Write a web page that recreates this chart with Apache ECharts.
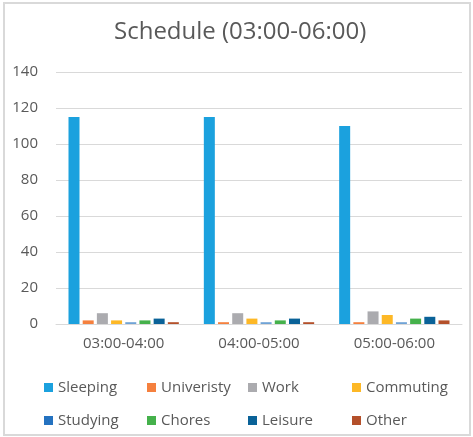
<!DOCTYPE html>
<html>
<head>
<meta charset="utf-8">
<script src="https://cdn.jsdelivr.net/npm/echarts@6/dist/echarts.min.js"></script>
<style>
  html, body { margin: 0; padding: 0; background: #fff; }
  #chart { width: 473px; height: 437px; }
</style>
</head>
<body>
<div id="chart"></div>
<script>
// Time slots on the category axis
const slots = ['03:00-04:00', '04:00-05:00', '05:00-06:00'];

// Activity names (as labelled in the legend)
const activities = ['Sleeping', 'Univeristy', 'Work', 'Commuting', 'Studying', 'Chores', 'Leisure', 'Other'];

// Values per activity, one per time slot
const sleeping   = [115, 115, 110];
const univeristy = [2, 1, 1];
const work       = [6, 6, 7];
const commuting  = [2, 3, 5];
const studying   = [1, 1, 1];
const chores     = [2, 2, 3];
const leisure    = [3, 3, 4];
const other      = [1, 1, 2];

const values = [sleeping, univeristy, work, commuting, studying, chores, leisure, other];

const colors = ['#1BA1DE', '#F5803E', '#ABABAF', '#FDB826', '#2472C0', '#45B14B', '#0A6298', '#B4502A'];
// Studying bars render in a lighter blue than its legend swatch
const barColors = ['#1BA1DE', '#F5803E', '#ABABAF', '#FDB826', '#6FA3D6', '#45B14B', '#0A6298', '#B4502A'];

const FONT = '"Open Sans", sans-serif';
const TEXT = '#595959';

// Legend laid out on a fixed 4-column grid
const legendCols = [44, 147, 248, 352];
const legendRows = [380, 413];
const legends = activities.map((name, i) => ({
  data: [{ name: name, itemStyle: { color: colors[i] } }],
  left: legendCols[i % 4],
  top: legendRows[Math.floor(i / 4)],
  orient: 'horizontal',
  icon: 'rect',
  itemWidth: 9,
  itemHeight: 9,
  padding: 0,
  selectedMode: false,
  textStyle: { color: TEXT, fontSize: 15, fontFamily: FONT }
}));

const option = {
  animation: false,
  backgroundColor: '#fff',
  title: {
    text: 'Schedule (03:00-06:00)',
    left: 114,
    top: 20,
    padding: 0,
    textStyle: { color: TEXT, fontSize: 24, fontWeight: 'normal', fontFamily: FONT }
  },
  graphic: [{
    type: 'rect',
    shape: { x: 4, y: 3, width: 466, height: 432 },
    style: { fill: 'none', stroke: '#D9D9D9', lineWidth: 2 },
    silent: true
  }],
  legend: legends,
  grid: { left: 56, right: 11, top: 72, bottom: 113, containLabel: false },
  xAxis: {
    type: 'category',
    data: slots,
    axisLine: { lineStyle: { color: '#D9D9D9', width: 1 } },
    axisTick: { show: false },
    axisLabel: { color: TEXT, fontSize: 15, fontFamily: FONT, margin: 12 }
  },
  yAxis: {
    type: 'value',
    min: 0,
    max: 140,
    interval: 20,
    axisLine: { show: false },
    axisTick: { show: false },
    splitLine: { lineStyle: { color: '#D9D9D9', width: 1 } },
    axisLabel: { color: TEXT, fontSize: 15, fontFamily: FONT, margin: 18 }
  },
  series: activities.map((name, i) => ({
    name: name,
    type: 'bar',
    data: values[i],
    barWidth: 11,
    barGap: '29%',
    itemStyle: { color: barColors[i] }
  }))
};

const chart = echarts.init(document.getElementById('chart'), null, { renderer: 'canvas' });
chart.setOption(option);
</script>
</body>
</html>
